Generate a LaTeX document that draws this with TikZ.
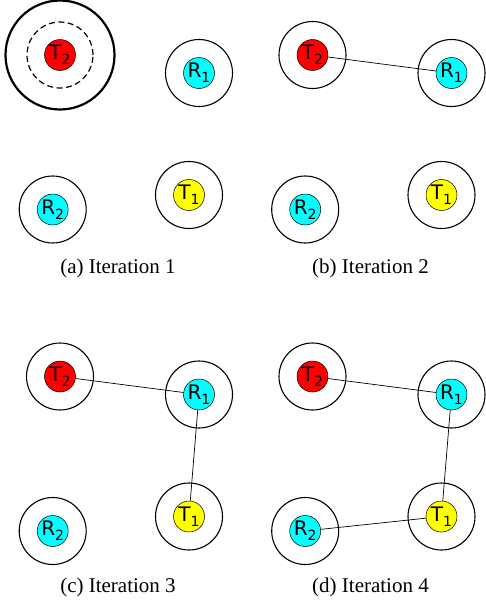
\documentclass[tikz,border=0pt]{standalone}
\usepackage{fontspec}
\setmainfont{Liberation Serif}
\newfontfamily\labelfont{DejaVu Sans}

\definecolor{txr}{RGB}{255,0,0}
\definecolor{txy}{RGB}{255,255,0}
\definecolor{rxc}{RGB}{0,255,255}

% subscript for the station labels
\newcommand\lowidx[1]{\raisebox{-5pt}{\fontsize{14}{14}\selectfont #1}}

\tikzset{
  station/.style={circle, draw=black, line width=0.5pt, minimum size=31pt,
    inner sep=0pt, font=\labelfont\fontsize{20}{20}\selectfont},
  txred/.style={station, fill=txr},
  txyellow/.style={station, fill=txy},
  rxcyan/.style={station, fill=rxc},
  rangering/.style={draw=black, line width=1.1pt},
  bigring/.style={draw=black, line width=2.2pt},
  dashring/.style={draw=black, line width=1.2pt, dash pattern=on 6pt off 3.5pt},
  link/.style={draw=black, line width=0.7pt},
  captext/.style={anchor=base, font=\fontsize{21}{24}\selectfont}
}

% one panel: four stations, with range rings around R1, T1 and R2
\newcommand\stationpanel[3]{%
  \begin{scope}[shift={(#2,#3)}]
    \node[txred]    (#1T2) at (60,55)    {T\lowidx{2}};
    \node[rxcyan]   (#1R1) at (199,73)   {R\lowidx{1}};
    \node[txyellow] (#1T1) at (189,195)  {T\lowidx{1}};
    \node[rxcyan]   (#1R2) at (52.7,209.5) {R\lowidx{2}};
  \end{scope}
  \draw[rangering] (#1R1.center) circle[radius=33.5pt];
  \draw[rangering] (#1T1.center) circle[radius=33.5pt];
  \draw[rangering] (#1R2.center) circle[radius=33.5pt];
}

\begin{document}
\begin{tikzpicture}[x=1pt,y=-1pt]
  \useasboundingbox (0,0) rectangle (485,600);

  % (a) Iteration 1
  \stationpanel{a}{0}{0}
  \draw[bigring] (aT2.center) circle[radius=54.5pt];
  \draw[dashring] (aT2.center) circle[radius=33pt];
  \node[captext] (capa) at (118,273.3) {(a) Iteration 1};

  % (b) Iteration 2
  \stationpanel{b}{252.5}{0}
  \draw[rangering] (bT2.center) circle[radius=33.5pt];
  \draw[link] (bT2) -- (bR1);
  \node[captext] (capb) at (370.5,273.3) {(b) Iteration 2};

  % (c) Iteration 3
  \stationpanel{c}{0}{321.5}
  \draw[rangering] (cT2.center) circle[radius=33.5pt];
  \draw[link] (cT2) -- (cR1);
  \draw[link] (cR1) -- (cT1);
  \node[captext] (capc) at (118,592.7) {(c) Iteration 3};

  % (d) Iteration 4
  \stationpanel{d}{252.5}{321.5}
  \draw[rangering] (dT2.center) circle[radius=33.5pt];
  \draw[link] (dT2) -- (dR1);
  \draw[link] (dR1) -- (dT1);
  \draw[link] (dT1) -- (dR2);
  \node[captext] (capd) at (370.5,592.7) {(d) Iteration 4};
\end{tikzpicture}
\end{document}
